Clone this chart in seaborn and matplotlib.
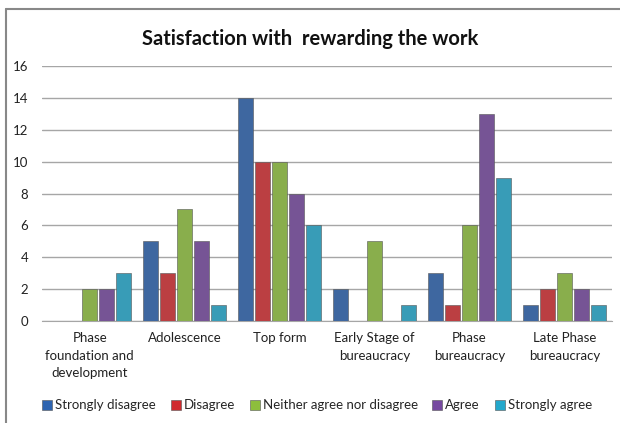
import pandas as pd
import matplotlib.pyplot as plt
import seaborn as sns
from matplotlib.lines import Line2D

categories = ["Phase\nfoundation and\ndevelopment", "Adolescence", "Top form",
              "Early Stage of\nbureaucracy", "Phase\nbureaucracy", "Late Phase\nbureaucracy"]
responses = ["Strongly disagree", "Disagree", "Neither agree nor disagree",
             "Agree", "Strongly agree"]
strongly_disagree = [0, 5, 14, 2, 3, 1]
disagree = [0, 3, 10, 0, 1, 2]
neither = [2, 7, 10, 5, 6, 3]
agree = [2, 5, 8, 0, 13, 2]
strongly_agree = [3, 1, 6, 1, 9, 1]
colors = ["#2E64B0", "#D02A2E", "#8DBE3C", "#7649A0", "#23A8CC"]

series = [strongly_disagree, disagree, neither, agree, strongly_agree]
rows = []
for resp, vals in zip(responses, series):
    for cat, v in zip(categories, vals):
        rows.append({"category": cat, "response": resp, "count": v})
df = pd.DataFrame(rows)

sns.set_style("white")
plt.rcParams["font.family"] = ["Lato", "DejaVu Sans"]

fig = plt.figure(figsize=(6.2, 4.23), dpi=100)
ax = fig.add_axes([0.068, 0.241, 0.919, 0.603])

sns.barplot(data=df, x="category", y="count", hue="response", order=categories,
            hue_order=responses, palette=colors, width=0.9, gap=0.12,
            edgecolor="#555555", linewidth=0.4, ax=ax, legend=False, zorder=3)

ax.set_ylim(0, 16)
ax.set_yticks(range(0, 17, 2))
ax.set_xlim(-0.5, 5.5)
ax.grid(axis="y", color="#A6A6A6", linewidth=1, zorder=0)
for s in ["top", "right", "left"]:
    ax.spines[s].set_visible(False)
ax.spines["bottom"].set_color("#A6A6A6")
ax.tick_params(axis="both", length=0, labelsize=9.5, colors="#222222")
ax.tick_params(axis="x", pad=8)
ax.tick_params(axis="y", pad=10)
ax.set_xlabel("")
ax.set_ylabel("")
for lbl in ax.get_xticklabels():
    lbl.set_linespacing(1.55)

fig.text(0.5, 0.908, "Satisfaction with  rewarding the work", ha="center", va="center",
         fontsize=14.5, fontweight="bold", color="#111111")

handles = [Line2D([], [], marker="s", linestyle="", markersize=6.5, markerfacecolor=c,
                  markeredgecolor="#555555", markeredgewidth=0.4) for c in colors]
fig.legend(handles, responses, loc="center", bbox_to_anchor=(0.51, 0.042), ncol=5,
           frameon=False, fontsize=9.5, handletextpad=0.1, columnspacing=1.0,
           handlelength=1.0)

fig.add_artist(Line2D([0.01, 0.01], [0.0, 0.978], color="#888888", linewidth=1.5,
                      transform=fig.transFigure))
fig.add_artist(Line2D([0.01, 1.0], [0.978, 0.978], color="#888888", linewidth=1.5,
                      transform=fig.transFigure))

fig.savefig("out.png", dpi=100)
